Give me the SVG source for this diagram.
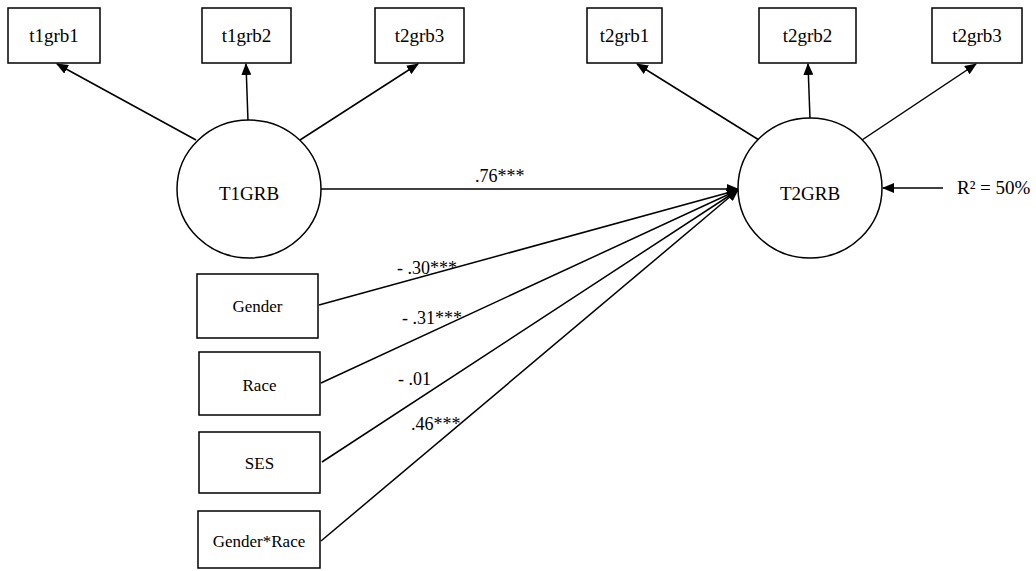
<svg xmlns="http://www.w3.org/2000/svg" width="1036" height="571" viewBox="0 0 1036 571">
<style>
.box{fill:#fff;stroke:#000;stroke-width:1.5}
.lat{fill:#fff;stroke:#000;stroke-width:1.5}
.t{font-family:"Liberation Serif","Times New Roman",serif;fill:#000;text-anchor:middle}
.t19{font-size:19px}
.t17{font-size:17px}
.lbl{font-family:"Liberation Serif","Times New Roman",serif;fill:#000;font-size:18px}
.c{stroke:#000;stroke-width:1.5;fill:none;marker-end:url(#ah)}
</style>
<defs>
<marker id="ah" markerUnits="userSpaceOnUse" markerWidth="12" markerHeight="10" refX="11" refY="5" orient="auto">
<path d="M0,0 L12,5 L0,10 Z" fill="#000"/>
</marker>
</defs>
<g id="connectors">
<line class="c" x1="196" y1="140" x2="57" y2="64"/>
<line class="c" x1="248" y1="121" x2="246" y2="64"/>
<line class="c" x1="300" y1="140" x2="418" y2="64"/>
<line class="c" x1="759" y1="140" x2="637" y2="64"/>
<line class="c" x1="810" y1="119" x2="808" y2="64"/>
<line class="c" x1="862" y1="140" x2="976" y2="64"/>
<line class="c" x1="943" y1="188" x2="883" y2="188"/>
<line class="c" x1="321" y1="189" x2="738" y2="189"/>
<line class="c" x1="319" y1="305" x2="738" y2="190"/>
<line class="c" x1="321" y1="383" x2="738" y2="190"/>
<line class="c" x1="322" y1="462" x2="738" y2="190"/>
<line class="c" x1="321" y1="541" x2="738" y2="190"/>
<text class="lbl" x="475" y="182">.76***</text>
<text class="lbl" x="397" y="274">- .30***</text>
<text class="lbl" x="402" y="324">- .31***</text>
<text class="lbl" x="398" y="385">- .01</text>
<text class="lbl" x="411" y="430">.46***</text>
<text class="lbl" x="957" y="194" style="font-size:19px">R² = 50%</text>
</g>
<g id="t1grb1"><rect class="box" x="8" y="8" width="92" height="55"/><text class="t t19" x="54" y="42">t1grb1</text></g>
<g id="t1grb2"><rect class="box" x="202" y="8" width="89" height="55"/><text class="t t19" x="246.5" y="42">t1grb2</text></g>
<g id="t2grb3a"><rect class="box" x="375" y="8" width="89" height="55"/><text class="t t19" x="419.5" y="42">t2grb3</text></g>
<g id="t2grb1"><rect class="box" x="587" y="8" width="75" height="55"/><text class="t t19" x="624.5" y="42">t2grb1</text></g>
<g id="t2grb2"><rect class="box" x="759" y="8" width="97" height="55"/><text class="t t19" x="807.5" y="42">t2grb2</text></g>
<g id="t2grb3"><rect class="box" x="932" y="8" width="90" height="55"/><text class="t t19" x="977" y="42">t2grb3</text></g>
<g id="T1GRB"><ellipse class="lat" cx="249" cy="189" rx="72" ry="69"/><text class="t t19" x="249" y="200">T1GRB</text></g>
<g id="T2GRB"><ellipse class="lat" cx="810" cy="188" rx="72" ry="70"/><text class="t t19" x="810" y="200">T2GRB</text></g>
<g id="Gender"><rect class="box" x="197" y="274" width="121" height="64"/><text class="t t17" x="257.5" y="312">Gender</text></g>
<g id="Race"><rect class="box" x="199" y="352" width="121" height="63"/><text class="t t17" x="259.5" y="391">Race</text></g>
<g id="SES"><rect class="box" x="199" y="432" width="121" height="61"/><text class="t t17" x="259.5" y="469">SES</text></g>
<g id="GenderRace"><rect class="box" x="198" y="511" width="122" height="57"/><text class="t t17" x="259" y="547">Gender*Race</text></g>
</svg>
